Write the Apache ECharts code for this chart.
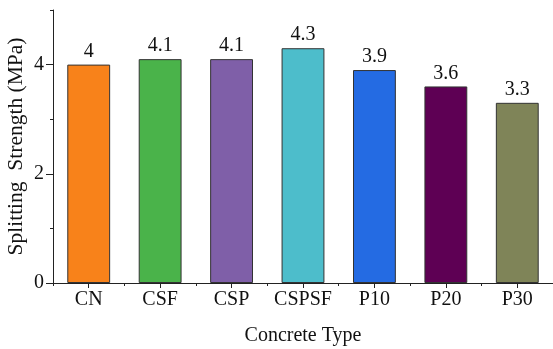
<!DOCTYPE html>
<html>
<head>
<meta charset="utf-8">
<script src="https://cdn.jsdelivr.net/npm/echarts@6/dist/echarts.min.js"></script>
<style>
  html, body { margin: 0; padding: 0; background: #fff; }
  #chart { width: 553px; height: 349px; }
</style>
</head>
<body>
<div id="chart"></div>
<script>
var categories = ["CN", "CSF", "CSP", "CSPSF", "P10", "P20", "P30"];
var strength = [4.0, 4.1, 4.1, 4.3, 3.9, 3.6, 3.3];
var barColors = ["#F8821A", "#4AB34A", "#7F5FA8", "#4DBDCB", "#246BE3", "#5E0054", "#7F8458"];
var majorTicks = [0, 2, 4];
var minorTicks = [1, 3, 5];

var font = "Liberation Serif";
var chart = echarts.init(document.getElementById("chart"));

chart.setOption({
  animation: false,
  grid: { left: 53, right: 0, top: 10, bottom: 66, containLabel: false, outerBoundsMode: "none" },
  xAxis: [{
    type: "category",
    data: categories,
    name: "Concrete Type",
    nameLocation: "middle",
    nameGap: 43,
    nameTextStyle: { fontFamily: font, fontSize: 20, color: "#111" },
    axisLine: { show: true, lineStyle: { color: "#222", width: 1 } },
    axisTick: { show: true, alignWithLabel: true, interval: 0, length: 5, lineStyle: { color: "#222" } },
    axisLabel: { fontFamily: font, fontSize: 20, color: "#111", margin: 7, interval: 0 }
  }, {
    type: "category",
    data: categories,
    position: "bottom",
    axisLine: { show: false },
    axisTick: { show: true, interval: 0, length: 3, lineStyle: { color: "#222" } },
    axisLabel: { show: false }
  }],
  yAxis: [{
    type: "value",
    min: 0,
    max: 5,
    interval: 1,
    name: "Splitting  Strength (MPa)",
    nameLocation: "middle",
    nameGap: 26,
    nameMoveOverlap: false,
    nameTextStyle: { fontFamily: font, fontSize: 21.5, color: "#111" },
    axisLine: { show: true, lineStyle: { color: "#222", width: 1 } },
    axisTick: { show: true, length: 7, customValues: majorTicks, lineStyle: { color: "#222" } },
    axisLabel: { fontFamily: font, fontSize: 20, color: "#111", margin: 9, customValues: majorTicks },
    splitLine: { show: false }
  }, {
    type: "value",
    min: 0,
    max: 5,
    interval: 1,
    position: "left",
    axisLine: { show: false },
    axisTick: { show: true, length: 3, customValues: minorTicks, lineStyle: { color: "#222" } },
    axisLabel: { show: false },
    splitLine: { show: false }
  }],
  series: [{
    type: "bar",
    data: strength.map(function (v, i) {
      return { value: v, itemStyle: { color: barColors[i] } };
    }),
    barWidth: "60%",
    itemStyle: { borderColor: "#333", borderWidth: 1 },
    label: {
      show: true,
      position: "top",
      distance: 3,
      fontFamily: font,
      fontSize: 20,
      color: "#111"
    }
  }]
});
</script>
</body>
</html>
